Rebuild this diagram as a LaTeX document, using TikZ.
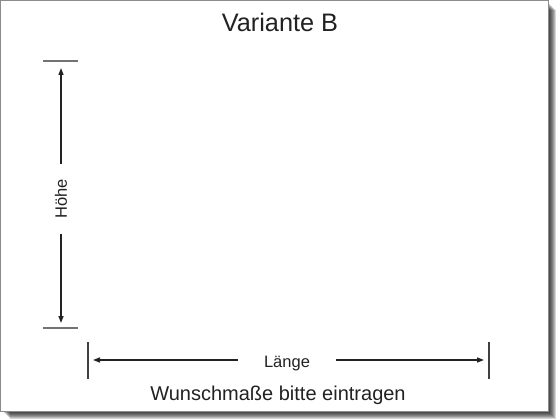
\documentclass[tikz,border=0pt]{standalone}
\usepackage{fontspec}
\setmainfont{Liberation Sans}
\usetikzlibrary{arrows.meta}
\definecolor{ink}{HTML}{222222}
\tikzset{
  dimarrow/.style={draw=ink, line width=1.4pt, -{Triangle[length=7pt,width=5pt]}},
  tickline/.style={draw=black!55, line width=1.4pt},
  tickdark/.style={draw=black!75, line width=1.2pt},
  lbl/.style={text=ink, font=\fontsize{16.5}{18}\selectfont, inner ysep=0pt},
}
\begin{document}
\begin{tikzpicture}[x=1pt,y=-1pt]
\useasboundingbox (0,0) rectangle (560,420);
% shadow
\foreach \d in {1,...,8}
  \fill[black,opacity=0.16] (\d+2,\d+2) rectangle (548+\d,411+\d);
% sheet
\fill[white] (0.5,0.5) rectangle (548,411);
\draw[black!45, line width=1pt] (0.5,0.5) rectangle (548,411);
% title
\node[anchor=base, text=ink, font=\fontsize{25.3}{28}\selectfont, inner sep=0pt] (title) at (280,31.7) {Variante B};
% vertical dimension
\coordinate (vt1) at (43,61);  \coordinate (vt2) at (78,61);
\coordinate (vb1) at (43,328); \coordinate (vb2) at (78,328);
\coordinate (vtip1) at (61,68); \coordinate (vtip2) at (61,323);
\draw[tickline] (vt1) -- (vt2);
\draw[tickline] (vb1) -- (vb2);
\node[lbl, rotate=90, inner xsep=15pt] (hoehe) at (61,199) {Höhe};
\draw[dimarrow] (hoehe) -- (vtip1);
\draw[dimarrow] (hoehe) -- (vtip2);
% horizontal dimension
\coordinate (hl1) at (88,342);  \coordinate (hl2) at (88,379);
\coordinate (hr1) at (489,342); \coordinate (hr2) at (489,379);
\coordinate (htip1) at (93,360); \coordinate (htip2) at (484,360);
\draw[tickdark] (hl1) -- (hl2);
\draw[tickdark] (hr1) -- (hr2);
\node[lbl, anchor=base, inner xsep=26pt] (laenge) at (287,367.5) {Länge};
\draw[dimarrow] (laenge.west |- htip1) -- (htip1);
\draw[dimarrow] (laenge.east |- htip2) -- (htip2);
% caption
\node[anchor=base, text=ink, font=\fontsize{20}{22}\selectfont, inner sep=0pt] (caption) at (278,400.7) {Wunschmaße bitte eintragen};
\end{tikzpicture}
\end{document}
